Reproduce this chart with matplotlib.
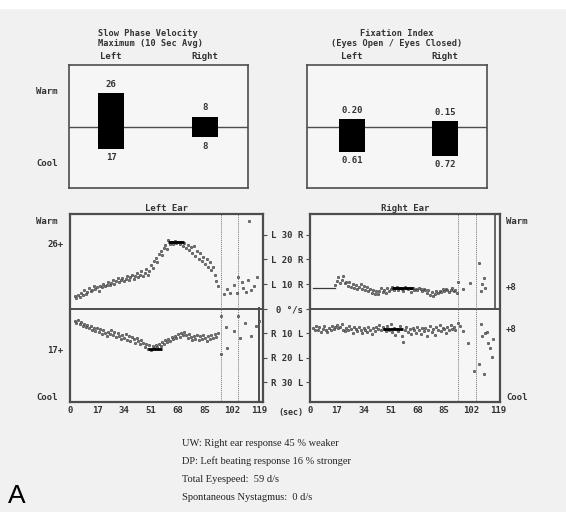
import matplotlib
matplotlib.use("Agg")
import matplotlib.pyplot as plt
import matplotlib.transforms as mtransforms

# ------------------------------------------
# Data
# ------------------------------------------
sides = ["Left", "Right"]
spv_warm = [26, 8]          # slow phase velocity max, warm
spv_cool = [17, 8]          # slow phase velocity max, cool
fix_open = [0.20, 0.15]     # fixation index, upper value
fix_closed = [0.61, 0.72]   # fixation index, lower value

time_ticks = [0, 17, 34, 51, 68, 85, 102, 119]
scale_ticks = [30, 20, 10, 0, -10, -20, -30]
scale_labels = ["L 30 R", "L 20 R", "L 10 R", "0 \u00b0/s", "R 10 L", "R 20 L", "R 30 L"]

# left ear, warm irrigation (deg/s), one sample per second from t=3
left_warm_t = list(range(3, 94)) + [97, 99, 101, 103, 105, 106, 108, 109, 111, 112, 113, 114, 116, 118]
left_warm_v = [5.0, 4.2, 5.6, 4.8, 6.3, 5.5, 7.4, 6.1, 6.8, 8.2, 7.0, 7.7, 9.1, 7.9, 8.6, 7.2,
               9.4, 8.8, 10.1, 9.0, 9.7, 11.0, 9.5, 10.4, 11.6, 10.2, 11.1, 12.3, 10.7, 11.5,
               12.6, 11.3, 12.0, 13.2, 11.8, 12.7, 13.6, 12.2, 13.1, 14.3, 12.9, 13.7, 15.2,
               13.4, 14.6, 16.0, 13.8, 15.5, 17.8, 16.4, 19.2, 20.6, 18.9, 22.1, 23.5, 22.0,
               24.6, 25.8, 24.4, 27.9, 26.2, 27.0, 26.4, 27.5, 26.8, 27.3, 26.1, 27.0, 25.6,
               26.5, 24.8, 25.9, 23.7, 24.9, 22.8, 25.4, 21.6, 23.3, 20.2, 22.7, 19.5, 21.0,
               18.3, 20.1, 17.0, 18.8, 15.6, 16.9, 13.8, 11.2, 9.0,
               5.8, 8.0, 6.3, 9.5, 6.5, 13.0, 10.8, 8.2, 6.9, 11.5, 35.5, 7.4, 9.1, 12.8]

# left ear, cool irrigation
left_cool_t = list(range(3, 94)) + [95, 95, 98, 99, 103, 106, 107, 110, 114, 117, 119]
left_cool_v = [-5.0, -5.8, -4.6, -6.2, -5.4, -7.0, -6.1, -7.5, -6.6, -8.0, -7.2, -8.6, -7.7,
               -9.1, -8.0, -9.6, -8.4, -10.3, -8.9, -9.8, -11.2, -9.4, -10.5, -8.8, -10.9,
               -9.7, -11.5, -10.1, -11.0, -12.4, -10.6, -11.8, -10.4, -12.7, -11.2, -13.0,
               -11.6, -12.3, -13.8, -12.0, -13.2, -14.5, -12.8, -14.0, -15.6, -14.3, -16.4,
               -15.0, -16.8, -15.4, -16.1, -14.9, -15.8, -14.2, -15.1, -13.6, -14.4, -12.9,
               -13.7, -12.2, -13.0, -11.6, -12.5, -11.0, -12.1, -10.5, -11.4, -9.8, -10.9,
               -9.5, -10.6, -11.8, -10.2, -11.5, -12.6, -11.0, -12.2, -10.8, -12.9, -11.3,
               -12.4, -10.7, -11.9, -13.1, -11.2, -12.3, -10.6, -11.8, -10.4, -11.5, -10.1,
               -3.0, -18.6, -7.4, -16.0, -9.0, -3.0, -12.0, -6.0, -11.0, -7.0, -5.0]

# right ear, warm irrigation
right_warm_base_t = [2, 16]
right_warm_base_v = [8.5, 8.5]
right_warm_t = list(range(16, 93)) + [93, 94, 97, 101, 107, 108, 109, 110, 111]
right_warm_v = [9.8, 11.2, 12.9, 10.6, 11.8, 13.4, 10.3, 11.0, 9.4, 10.8, 8.7, 9.9, 8.2, 9.6,
                7.8, 8.9, 10.1, 8.0, 9.2, 7.4, 8.6, 7.0, 8.1, 6.4, 7.5, 6.1, 7.2, 5.8, 7.0,
                8.3, 6.6, 7.7, 6.2, 8.5, 7.1, 8.0, 8.6, 7.4, 8.4, 8.8, 7.6, 8.5, 8.1, 7.3,
                8.6, 8.2, 7.8, 8.4, 6.9, 8.3, 7.7, 8.1, 7.5, 8.2, 7.9, 7.2, 8.0, 7.6, 6.5,
                7.4, 5.6, 6.8, 5.2, 6.1, 7.0, 6.3, 7.3, 6.6, 7.8, 7.1, 8.0, 7.4, 6.9, 7.6,
                8.3, 7.0, 7.6,
                6.2, 10.9, 7.8, 10.4, 18.5, 7.3, 9.9, 12.6, 8.4]

# right ear, cool irrigation
right_cool_t = list(range(2, 93)) + [94, 95, 97, 100, 104, 107, 108, 109, 110, 111, 112, 113, 114, 115, 116]
right_cool_v = [-7.8, -8.6, -7.2, -8.9, -7.5, -9.4, -8.1, -7.0, -8.7, -9.6, -7.9, -8.8, -6.9,
                -8.3, -7.4, -6.6, -8.0, -7.3, -6.2, -8.5, -9.2, -7.7, -8.9, -7.1, -8.4, -9.8,
                -7.6, -8.2, -9.0, -7.4, -8.7, -10.1, -7.9, -8.6, -9.5, -7.3, -8.8, -10.4,
                -8.0, -9.1, -7.5, -8.4, -6.7, -8.9, -7.6, -8.3, -9.2, -7.0, -8.5, -6.4, -9.4,
                -7.8, -10.6, -8.1, -9.0, -7.2, -11.3, -13.4, -8.7, -7.5, -9.6, -8.2, -10.2,
                -7.7, -8.9, -9.9, -7.4, -8.6, -10.5, -7.9, -9.3, -8.0, -11.0, -8.8, -7.1,
                -9.7, -8.3, -10.8, -7.6, -8.9, -6.8, -9.1, -7.7, -8.4, -9.8, -7.3, -8.6,
                -6.5, -8.2, -7.4, -8.9,
                -5.8, -7.0, -9.3, -13.8, -25.5, -22.7, -6.2, -11.1, -26.7, -10.0, -9.4,
                -13.8, -16.0, -19.5, -12.2]

# 10 sec average maxima (start, end, value)
left_warm_avg = (62, 72, 27.0)
left_cool_avg = (49, 58, -16.5)
right_warm_avg = (52, 65, 8.2)
right_cool_avg = (46, 59, -8.4)

# irrigation markers (dotted lines)
left_marks = [95, 105.5]
right_marks = [93.7, 105]

report_lines = ["UW: Right ear response 45 % weaker",
                "DP: Left beating response 16 % stronger",
                "Total Eyespeed:  59 d/s",
                "Spontaneous Nystagmus:  0 d/s"]

# ------------------------------------------
# Layout helpers
# ------------------------------------------
W, H = 566, 512
MONO = "DejaVu Sans Mono"
INK = "#333333"
FRAME = "#4d4d4d"


def box(x0, y0, x1, y1):
    return [x0 / W, 1 - y1 / H, (x1 - x0) / W, (y1 - y0) / H]


def ftext(x, y, s, **kw):
    kw.setdefault("family", MONO)
    kw.setdefault("fontweight", "bold")
    kw.setdefault("fontsize", 6.5)
    kw.setdefault("color", INK)
    fig.text(x / W, 1 - y / H, s, **kw)


fig = plt.figure(figsize=(W / 100, H / 100), dpi=100, facecolor="#f1f1f1")
fig.patches.append(plt.Rectangle((0, 1 - 8 / H), 1, 8 / H, transform=fig.transFigure,
                                 color="white", zorder=0))


def style_box(ax, lw=1.2):
    ax.set_facecolor("#f6f6f6")
    for s in ax.spines.values():
        s.set_color(FRAME)
        s.set_linewidth(lw)
    ax.set_xticks([])
    ax.set_yticks([])


# ------------------------------------------
# Slow phase velocity bars
# ------------------------------------------
ax1 = fig.add_axes(box(69, 65, 248, 188))
style_box(ax1)
ax1.set_xlim(-0.448, 1.457)
ax1.set_ylim(-47, 47.7)
ax1.axhline(0, color=FRAME, lw=1.0)
ax1.bar([0, 1], spv_warm, width=0.27, color="black", zorder=3)
ax1.bar([0, 1], [-v for v in spv_cool], width=0.27, color="black", zorder=3)
for i in range(2):
    ax1.annotate(str(spv_warm[i]), (i, spv_warm[i]), xytext=(0, 3), textcoords="offset points",
                 ha="center", va="bottom", family=MONO, fontweight="bold", fontsize=6.5, color=INK)
    ax1.annotate(str(spv_cool[i]), (i, -spv_cool[i]), xytext=(0, -3), textcoords="offset points",
                 ha="center", va="top", family=MONO, fontweight="bold", fontsize=6.5, color=INK)
    ax1.annotate(sides[i], (i, 47.7), xytext=(0, 3), textcoords="offset points",
                 ha="center", va="bottom", family=MONO, fontweight="bold", fontsize=6.5, color=INK)
ftext(98, 34, "Slow Phase Velocity", va="center", fontsize=6.2)
ftext(98, 44, "Maximum (10 Sec Avg)", va="center", fontsize=6.2)
ftext(36, 91, "Warm", va="center")
ftext(36, 164, "Cool", va="center")

# ------------------------------------------
# Fixation index bars
# ------------------------------------------
ax2 = fig.add_axes(box(307, 65, 487, 188))
style_box(ax2)
ax2.set_xlim(-0.484, 1.451)
ax2.set_ylim(-1.52, 1.55)
ax2.axhline(0, color=FRAME, lw=1.0)
ax2.bar([0, 1], fix_open, width=0.27, color="black", zorder=3)
ax2.bar([0, 1], [-v for v in fix_closed], width=0.27, color="black", zorder=3)
for i in range(2):
    ax2.annotate("%.2f" % fix_open[i], (i, fix_open[i]), xytext=(0, 3), textcoords="offset points",
                 ha="center", va="bottom", family=MONO, fontweight="bold", fontsize=6.5, color=INK)
    ax2.annotate("%.2f" % fix_closed[i], (i, -fix_closed[i]), xytext=(0, -3), textcoords="offset points",
                 ha="center", va="top", family=MONO, fontweight="bold", fontsize=6.5, color=INK)
    ax2.annotate(sides[i], (i, 1.55), xytext=(0, 3), textcoords="offset points",
                 ha="center", va="bottom", family=MONO, fontweight="bold", fontsize=6.5, color=INK)
ftext(397, 34, "Fixation Index", ha="center", va="center", fontsize=6.2)
ftext(397, 44, "(Eyes Open / Eyes Closed)", ha="center", va="center", fontsize=6.2)


# ------------------------------------------
# Ear response panels
# ------------------------------------------
def ear_panel(rect, xmax, title):
    ax = fig.add_axes(box(*rect))
    style_box(ax, lw=1.6)
    ax.set_xlim(0, xmax)
    ax.set_ylim(-38, 38.5)
    ax.axhline(0, color=FRAME, lw=1.4)
    ax.set_xticks(time_ticks)
    ax.set_xticklabels([str(t) for t in time_ticks], family=MONO, fontweight="bold",
                       fontsize=6.5, color=INK)
    ax.tick_params(axis="x", length=0, pad=3)
    ax.set_title(title, family=MONO, fontweight="bold", fontsize=6.5, color=INK, pad=2)
    return ax


def dots(ax, t, v):
    ax.scatter(t, v, s=3, marker="o", facecolors="#777777", edgecolors="#333333",
               linewidths=0.4, zorder=3)


axL = ear_panel((70, 214, 263, 402), 121.5, "Left Ear")
dots(axL, left_warm_t, left_warm_v)
dots(axL, left_cool_t, left_cool_v)
for a in (left_warm_avg, left_cool_avg):
    axL.hlines(a[2], a[0], a[1], color="black", lw=2, zorder=4)
for m in left_marks:
    axL.axvline(m, color="#777777", lw=0.7, ls=(0, (1, 1)))
axL.axvline(119, ymax=0.5, color=FRAME, lw=1.4)
axL.set_yticks(scale_ticks)
axL.tick_params(axis="y", left=False, labelleft=False, right=True, direction="out",
                length=3, color=FRAME)
blendL = mtransforms.blended_transform_factory(axL.transAxes, axL.transData)
axL.text(-0.035, 26, "26+", transform=blendL, ha="right", va="center",
         family=MONO, fontweight="bold", fontsize=6.5, color=INK)
axL.text(-0.035, -17, "17+", transform=blendL, ha="right", va="center",
         family=MONO, fontweight="bold", fontsize=6.5, color=INK)
ftext(36, 222, "Warm", va="center")
ftext(36, 398, "Cool", va="center")

axR = ear_panel((310, 214, 500, 402), 120.3, "Right Ear")
axR.plot(right_warm_base_t, right_warm_base_v, color="#3a3a3a", lw=0.9)
dots(axR, right_warm_t, right_warm_v)
dots(axR, right_cool_t, right_cool_v)
for a in (right_warm_avg, right_cool_avg):
    axR.hlines(a[2], a[0], a[1], color="black", lw=2, zorder=4)
for m in right_marks:
    axR.axvline(m, color="#777777", lw=0.7, ls=(0, (1, 1)))
axR.axvline(117.2, ymin=0.5, color=FRAME, lw=1.2)
axR.set_yticks(scale_ticks)
axR.set_yticklabels(scale_labels, family=MONO, fontweight="bold", fontsize=6.5, color=INK)
axR.tick_params(axis="y", direction="out", length=3, pad=2, color=FRAME)
blendR = mtransforms.blended_transform_factory(axR.transAxes, axR.transData)
axR.text(1.03, 8.5, "+8", transform=blendR, ha="left", va="center",
         family=MONO, fontweight="bold", fontsize=6.5, color=INK)
axR.text(1.03, -8.5, "+8", transform=blendR, ha="left", va="center",
         family=MONO, fontweight="bold", fontsize=6.5, color=INK)
ftext(506, 222, "Warm", va="center")
ftext(506, 398, "Cool", va="center")
ftext(278, 412, "(sec)", va="center", fontsize=6)

# ------------------------------------------
# Report text
# ------------------------------------------
for k, line in enumerate(report_lines):
    fig.text(182 / W, 1 - (443 + 18 * k) / H, line, family="Liberation Serif",
             fontsize=7.5, color="#222222", va="center")

fig.text(8 / W, 1 - 503 / H, "A", family="Liberation Sans", fontsize=19, color="black",
         va="baseline")

fig.savefig("out.png", dpi=100, facecolor=fig.get_facecolor())
